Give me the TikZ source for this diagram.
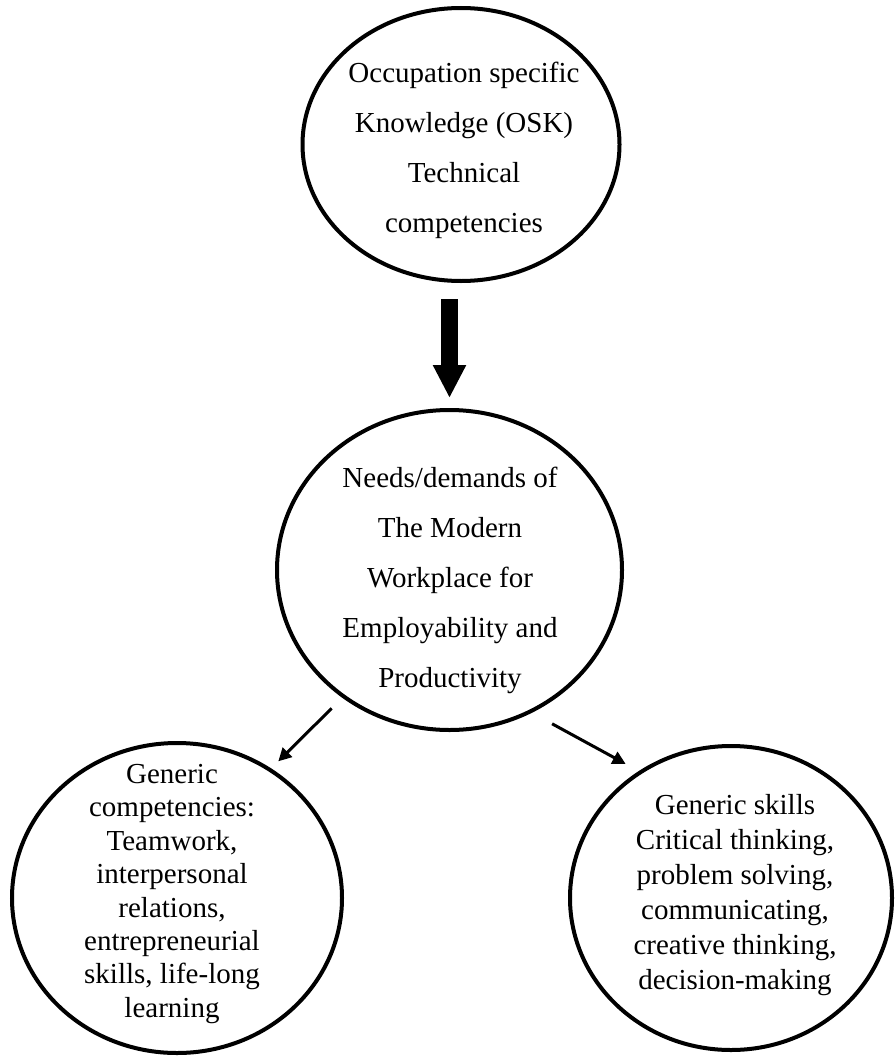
\documentclass[tikz,border=0pt]{standalone}
\usepackage{fontspec}
\setmainfont{Liberation Serif}
\usetikzlibrary{arrows.meta,shapes.geometric}

\begin{document}
\begin{tikzpicture}[
  x=1pt, y=-1pt,
  bubble/.style={draw=black, line width=4pt, ellipse, inner sep=0pt},
  wide/.style={align=center, font=\fontsize{29}{50}\selectfont},
  tight/.style={align=center, font=\fontsize{29}{33.4}\selectfont},
  bigarrow/.style={-{Triangle[length=33pt,width=31pt]}, line width=17pt, draw=black},
  line/.style={-{Triangle[length=13pt,width=13pt]}, line width=3pt, draw=black}
]
\useasboundingbox (0,0) rectangle (894,1057);

% the four bubbles
\node[bubble, minimum width=317pt, minimum height=273pt] (osk) at (461,144.5) {};
\node[bubble, minimum width=345pt, minimum height=320pt] (needs) at (449.5,570) {};
\node[bubble, minimum width=330pt, minimum height=310pt] (gencomp) at (177,898) {};
\node[bubble, minimum width=322pt, minimum height=304pt] (genskill) at (731,898) {};

% texts inside the bubbles
\node[wide] (osktxt) at (464,150) {Occupation specific\\Knowledge (OSK)\\Technical\\competencies};
\node[wide] (needstxt) at (450,580) {Needs/demands of\\The Modern\\Workplace for\\Employability and\\Productivity};
\node[tight] (gencomptxt) at (172,894) {Generic\\competencies:\\Teamwork,\\interpersonal\\relations,\\entrepreneurial\\skills, life-long\\learning};
\node[tight, font=\fontsize{29}{35}\selectfont] (genskilltxt) at (735,895) {Generic skills\\Critical thinking,\\problem solving,\\communicating,\\creative thinking,\\decision-making};

% arrows
\draw[bigarrow, shorten <=16pt, shorten >=10pt] (needs.north |- osk.south) -- (needs.north);
\draw[line, shorten <=15pt, shorten >=10pt] (needs.230) -- (gencomp.54);
\draw[line, shorten <=23pt, shorten >=15pt] (needs.300.5) -- (genskill.126.5);

\end{tikzpicture}
\end{document}
